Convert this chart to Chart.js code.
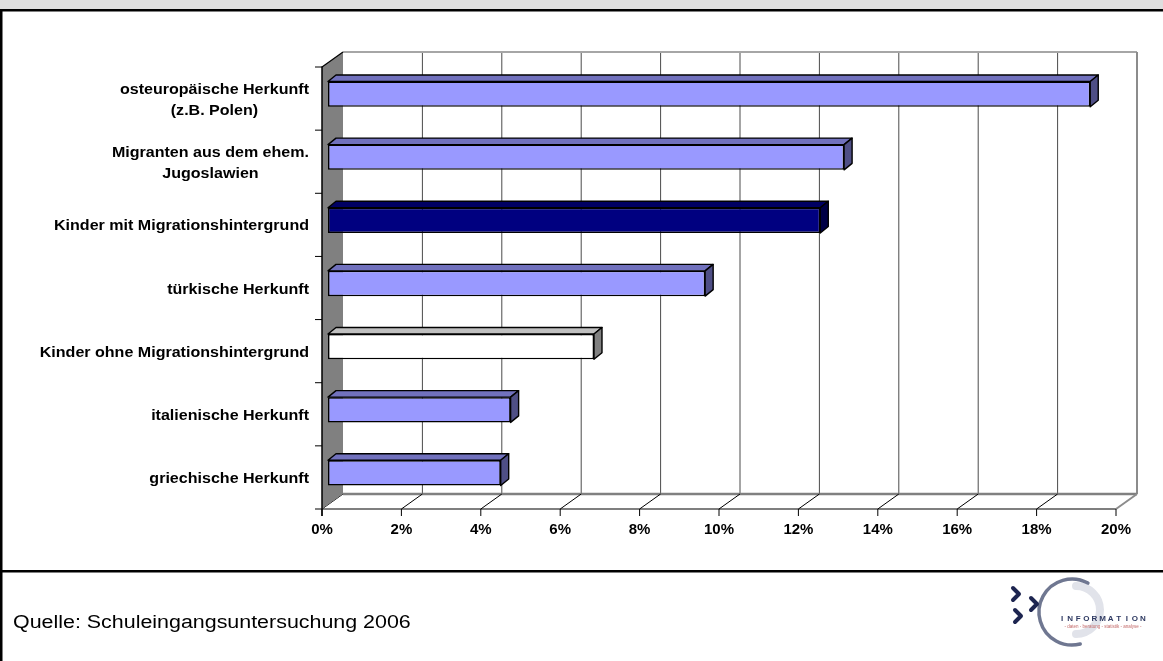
<!DOCTYPE html>
<html lang="de">
<head>
<meta charset="utf-8">
<title>Schuleingangsuntersuchung 2006</title>
<script src="https://cdn.jsdelivr.net/npm/chart.js@4.4.0/dist/chart.umd.min.js"></script>
<style>
  html, body { margin: 0; padding: 0; background: #fff; }
  #chart { display: block; }
</style>
</head>
<body>
<canvas id="chart" width="1163" height="661"></canvas>
<script>
const categories = [
  ["osteuropäische Herkunft", "(z.B. Polen)"],
  ["Migranten aus dem ehem.", "Jugoslawien"],
  "Kinder mit Migrationshintergrund",
  "türkische Herkunft",
  "Kinder ohne Migrationshintergrund",
  "italienische Herkunft",
  "griechische Herkunft",
];
const shares = [19.2, 13.0, 12.4, 9.5, 6.7, 4.6, 4.35];
const groups = ["herkunft", "herkunft", "mit", "herkunft", "ohne", "herkunft", "herkunft"];
const xTicks = [0, 2, 4, 6, 8, 10, 12, 14, 16, 18, 20];
const sourceText = "Quelle: Schuleingangsuntersuchung 2006";

// front / top / side colour of each bar group
const palette = {
  herkunft: { front: "#9999ff", top: "#7171bd", side: "#4f4f86" },
  mit: { front: "#000080", top: "#000062", side: "#000045" },
  ohne: { front: "#ffffff", top: "#c0c0c0", side: "#808080" },
};

const FONT = '"Liberation Sans", Arial, sans-serif';
const LABEL_SX = 1.07, SOURCE_SX = 1.19;  // text in this layout runs a bit wide
const WALL_DX = 15, WALL_DY = -10.5;   // bar plane -> back wall
const FRONT_DX = -6, FRONT_DY = 4.5;   // bar plane -> front edge
const BAR_DX = 8, BAR_DY = -6.5;       // depth of one bar
const LABEL_RIGHT = 309, LINE_H = 21;

function poly(ctx, pts, fill, stroke, lw) {
  ctx.beginPath();
  pts.forEach((p, i) => (i ? ctx.lineTo(p[0], p[1]) : ctx.moveTo(p[0], p[1])));
  ctx.closePath();
  if (fill) { ctx.fillStyle = fill; ctx.fill(); }
  if (stroke) { ctx.strokeStyle = stroke; ctx.lineWidth = lw || 1; ctx.stroke(); }
}

function line(ctx, x0, y0, x1, y1, color, lw) {
  ctx.beginPath();
  ctx.moveTo(x0, y0);
  ctx.lineTo(x1, y1);
  ctx.strokeStyle = color;
  ctx.lineWidth = lw || 1;
  ctx.stroke();
}

function wideText(ctx, text, x, y, align, sx) {
  ctx.save();
  ctx.translate(x, y);
  ctx.scale(sx, 1);
  ctx.textAlign = align;
  ctx.fillText(text, 0, 0);
  ctx.restore();
}

function drawLogo(ctx) {
  ctx.save();
  ctx.lineCap = "round";
  // light inner swoosh
  ctx.beginPath();
  ctx.arc(1076, 610, 24, -Math.PI * 0.5, Math.PI * 0.5);
  ctx.strokeStyle = "#e1e3ea";
  ctx.lineWidth = 8;
  ctx.stroke();
  // ring
  ctx.beginPath();
  ctx.arc(1072, 612, 33, -Math.PI * 0.34, Math.PI * 0.42, true);
  ctx.strokeStyle = "#6f7791";
  ctx.lineWidth = 3.5;
  ctx.stroke();
  // chevrons
  ctx.strokeStyle = "#1d2550";
  ctx.lineWidth = 4;
  ctx.lineJoin = "round";
  [[1013, 594], [1031, 604], [1015, 616]].forEach(([x, y]) => {
    ctx.beginPath();
    ctx.moveTo(x, y - 6);
    ctx.lineTo(x + 6, y);
    ctx.lineTo(x, y + 6);
    ctx.stroke();
  });
  // lettering
  ctx.fillStyle = "#2f3a62";
  ctx.font = "bold 8px " + FONT;
  ctx.textAlign = "center";
  ctx.textBaseline = "middle";
  "INFORMATION".split("").forEach((c, i) => ctx.fillText(c, 1062 + i * 8.1, 619));
  ctx.fillStyle = "#c46a6a";
  ctx.font = "4.5px " + FONT;
  ctx.fillText("- daten - beratung - statistik - analyse -", 1103, 627);
  ctx.restore();
}

const frame3d = {
  id: "frame3d",
  beforeDraw(chart) {
    const { ctx, chartArea: area, scales: { x: xs, y: ys } } = chart;
    const W = chart.width, H = chart.height;
    ctx.save();
    ctx.fillStyle = "#fff";
    ctx.fillRect(0, 0, W, H);

    // header band, rules and left border
    ctx.fillStyle = "#dedede";
    ctx.fillRect(0, 0, W, 9);
    ctx.fillStyle = "#000";
    ctx.fillRect(0, 9, W, 2.5);
    ctx.fillRect(0, 9, 2.5, H - 9);
    ctx.fillRect(0, 570, W, 2.5);

    const bx = v => xs.getPixelForValue(v) + WALL_DX;
    const fx = v => xs.getPixelForValue(v) + FRONT_DX;
    const bt = area.top + WALL_DY, bb = area.bottom + WALL_DY;
    const ft = area.top + FRONT_DY, fb = area.bottom + FRONT_DY;
    const lo = xTicks[0], hi = xTicks[xTicks.length - 1];

    // back wall with gridlines
    poly(ctx, [[bx(lo), bt], [bx(hi), bt], [bx(hi), bb], [bx(lo), bb]], "#fff");
    xTicks.slice(1, -1).forEach(v => line(ctx, bx(v), bt, bx(v), bb, "#4a4a4a", 1));
    line(ctx, bx(lo), bt, bx(hi), bt, "#a6a6a6", 2);
    line(ctx, bx(hi), bt, bx(hi), bb, "#8c8c8c", 2);

    // floor
    line(ctx, bx(lo), bb, bx(hi), bb, "#808080", 2.5);
    line(ctx, fx(lo), fb, fx(hi), fb, "#000", 1.2);
    xTicks.forEach(v => {
      line(ctx, fx(v), fb, bx(v), bb, v === hi ? "#8c8c8c" : "#000", v === hi ? 2 : 1);
      line(ctx, fx(v), fb, fx(v), fb + 7, "#000", 1);
    });

    // left side wall
    poly(ctx, [[fx(lo), ft], [bx(lo), bt], [bx(lo), bb], [fx(lo), fb]], "#808080");
    line(ctx, fx(lo), ft, bx(lo), bt, "#000", 1.2);
    line(ctx, fx(lo), ft - 0.5, fx(lo), fb + 7, "#000", 1.5);
    for (let i = 0; i <= categories.length; i++) {
      const y = ys.getPixelForValue(i - 0.5) + FRONT_DY;
      line(ctx, fx(lo) - 7, y, fx(lo), y, "#000", 1);
    }
    ctx.restore();
  },
  afterDatasetsDraw(chart) {
    const ctx = chart.ctx;
    ctx.save();
    ctx.lineJoin = "round";
    chart.getDatasetMeta(0).data.forEach((bar, i) => {
      const c = palette[groups[i]];
      const l = bar.base, r = bar.x;
      const t = bar.y - bar.height / 2, b = bar.y + bar.height / 2;
      poly(ctx, [[l, t], [l + BAR_DX, t + BAR_DY], [r + BAR_DX, t + BAR_DY], [r, t]], c.top, "#000", 1.4);
      poly(ctx, [[r, t], [r + BAR_DX, t + BAR_DY], [r + BAR_DX, b + BAR_DY], [r, b]], c.side, "#000", 1.4);
    });
    ctx.restore();
  },
  afterDraw(chart) {
    const { ctx, scales: { y: ys } } = chart;
    ctx.save();
    ctx.fillStyle = "#000";
    ctx.textBaseline = "middle";
    ctx.font = "bold 15px " + FONT;
    categories.forEach((label, i) => {
      const lines = [].concat(label);
      const cy = ys.getPixelForValue(i) + FRONT_DY + 1.5;
      const blockW = Math.max(...lines.map(s => ctx.measureText(s).width)) * LABEL_SX;
      const cx = LABEL_RIGHT - blockW / 2;
      lines.forEach((s, j) => wideText(ctx, s, cx, cy + (j - (lines.length - 1) / 2) * LINE_H, "center", LABEL_SX));
    });

    ctx.textBaseline = "alphabetic";
    ctx.font = "18px " + FONT;
    wideText(ctx, sourceText, 13, 628, "left", SOURCE_SX);
    drawLogo(ctx);
    ctx.restore();
  },
};

new Chart(document.getElementById("chart"), {
  type: "bar",
  data: {
    labels: categories,
    datasets: [{
      data: shares,
      backgroundColor: groups.map(g => palette[g].front),
      borderColor: "#000",
      borderWidth: 1.5,
      borderSkipped: false,
      categoryPercentage: 1,
      barPercentage: 0.4,
    }],
  },
  options: {
    indexAxis: "y",
    responsive: false,
    animation: false,
    layout: { padding: { top: 62.5, right: 41, left: 0, bottom: 0 } },
    plugins: { legend: { display: false }, tooltip: { enabled: false } },
    scales: {
      x: {
        min: 0,
        max: 20,
        afterBuildTicks: s => { s.ticks = xTicks.map(v => ({ value: v })); },
        afterFit: s => { s.height = 156.5; },
        grid: { display: false, drawTicks: false },
        border: { display: false },
        ticks: {
          autoSkip: false,
          maxRotation: 0,
          padding: 16,
          labelOffset: FRONT_DX,
          color: "#000",
          font: { family: FONT, size: 15, weight: "bold" },
          callback: v => v + "%",
        },
      },
      y: {
        afterFit: s => { s.width = 328; },
        grid: { display: false, drawTicks: false },
        border: { display: false },
        ticks: { display: false },
      },
    },
  },
  plugins: [frame3d],
});
</script>
</body>
</html>
